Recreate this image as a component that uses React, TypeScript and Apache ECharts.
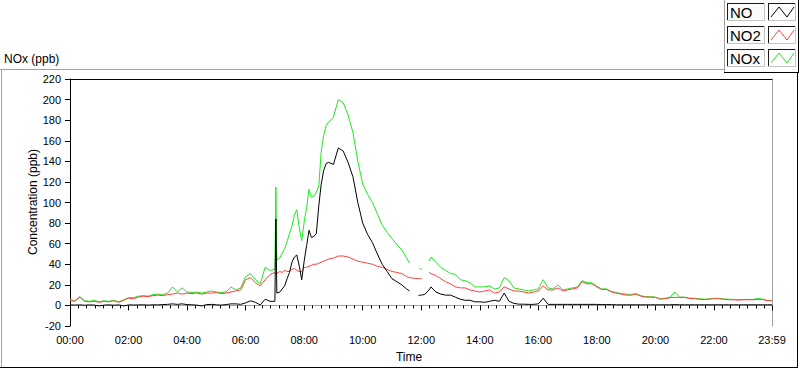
import React, { useEffect, useRef } from "react";
import * as echarts from "echarts";

// time of each sample, minutes after 00:00
const times = [
  0, 10, 20, 30, 40, 50, 60, 70, 80, 90,
  100, 110, 120, 130, 140, 150, 160, 170, 180, 190,
  200, 210, 220, 230, 240, 250, 260, 270, 280, 290,
  300, 310, 320, 330, 340, 350, 360, 370, 380, 390,
  400, 410, 420,
  422, 424,
  430, 435, 440, 445, 450, 455, 460, 465, 470, 475,
  480, 485, 490, 495, 500, 505, 510, 515, 520, 525, 530,
  540, 550, 560, 570, 580, 590, 600, 610, 620, 630,
  640, 650, 660, 670, 680, 690,
  696, 705, 714, 716, 721, 728, 736,
  740, 750, 760, 770, 780, 790, 800, 810, 820, 830,
  840, 850, 860, 870, 880, 890, 900, 910, 920, 930,
  940, 950, 960, 970, 980, 990, 1000, 1010, 1020, 1030,
  1040, 1050, 1060, 1070, 1080, 1090, 1100, 1110, 1120, 1130,
  1140, 1150, 1160, 1170, 1180, 1190, 1200, 1210, 1220, 1230,
  1240, 1250, 1260, 1270, 1280, 1290, 1300, 1310, 1320, 1330,
  1340, 1350, 1360, 1370, 1380, 1390, 1400, 1410, 1420, 1430,
  1439,
];

const noValues = [
  0.5, 0.3, 0.5, 0.2, 0.5, 0.3, -0.5, 0.3, 0.5, 0.2,
  0.5, -0.5, 0.5, 0.4, 0.5, 0.6, 0.3, 0.6, 0.5, 0.8,
  1, 1.5, 1, 1.5, 0.8, 0.6, 0.3, -0.5, 0.8, 1,
  0.6, 0.3, 0.8, 1.5, 1.5, 1, 2.5, 4.5, 3, 0.5,
  6, 4, 4,
  84, 12,
  13, 16, 19, 26, 32, 42, 47, 49, 38, 25,
  43, 58, 73, 66, 67, 70, 97, 118, 131, 138, 139,
  137, 153, 150, 139, 125, 100, 80, 69, 61, 50,
  40, 33, 26, 23, 20, 16,
  14, null, 9, 10, 10, 11, 15,
  18, 13, 11, 10, 10, 8, 6, 5, 5, 3.5,
  3.5, 3, 4, 5, 4, 12, 4, 2, 1.2, 1.2,
  1, 1, 1.5, 7, 1, 1, 1, 1, 1, 1,
  1, 1, 1, 1, 1, 0.8, 0.8, 0.8, 0.6, 0.6,
  0.6, 0.6, 0.6, 0.6, 0.6, 0.6, 0.6, 0.6, 0.6, 0.6,
  0.8, 0.6, 0.6, 0.6, 0.6, 0.6, 0.6, 0.6, 0.6, 0.6,
  0.6, 0.6, 0.6, 0.6, 0.6, 0.6, 0.6, 0.6, 0.6, 0.6,
  0.6,
];

const no2Values = [
  5, 4, 8, 4, 3.5, 4, 3, 4, 3.5, 4.5,
  3, 5, 7, 6.5, 8, 9, 8.5, 9.5, 10, 9.5,
  10.5, 11, 12, 11, 12, 11.5, 12, 11, 12, 12,
  12.5, 11.5, 12, 13, 14, 15, 25, 27, 22, 19,
  25, 30, 32,
  30, 31,
  33, 32, 34, 33, 33, 35, 36, 34, 33, 33,
  37, 37, 38, 39, 40, 40, 41, 42, 43, 44, 45,
  46, 48, 48, 47, 45, 43, 42, 41, 40, 38,
  37, 35, 33, 32, 31, 28,
  27, 26.5, 26, 26, 26, null, 32,
  31, 29, 26, 23, 21, 18, 17, 17, 15, 14,
  13, 14, 15, 12, 13, 18, 16, 14, 14, 13,
  12, 13, 14, 19, 15, 15, 17, 14, 15, 16,
  17, 23, 21, 21, 18, 15.5, 15.5, 13, 12, 11,
  10, 10, 11, 9, 8, 8, 7.8, 6, 6.5, 7.5,
  7.8, 7.8, 7.8, 6.8, 6.5, 6, 5.8, 6, 6.5, 6.5,
  6, 5.5, 5.5, 5.2, 5.5, 5.5, 5.5, 5.8, 5.8, 4.5,
  4.5,
];

const noxValues = [
  5.5, 4.5, 8.5, 4.5, 4, 5, 3.5, 4.5, 4, 5,
  3.5, 5.5, 7.5, 7.5, 9, 9.5, 9, 10.5, 11, 10.5,
  12, 18, 13, 17, 13, 12.5, 13, 12, 13, 14,
  13, 12.5, 13, 18, 15, 17, 28, 31, 25, 21,
  37, 34, 35,
  115, 44,
  46, 51, 55, 62, 70, 77, 88, 93, 75, 63,
  81, 95, 113, 105, 106, 110, 116, 150, 165, 175, 178,
  183, 200, 197, 185, 168, 140, 118, 108, 100, 89,
  78, 71, 65, 59, 54, 46,
  41, null, null, 36, 35, null, 43,
  47, 42, 37, 34, 31, 30, 25, 24, 22, 18,
  18, 18, 19, 16, 17, 27, 24, 17, 16, 15,
  14, 15, 16, 25, 17, 16, 20, 15, 16, 17,
  18, 24, 22, 22, 18.5, 16, 16, 13.5, 12.5, 11.5,
  11, 10.5, 11.5, 9.5, 8.5, 8.5, 8, 6.5, 7, 8,
  13, 8, 8, 7, 7, 6.5, 6, 6.3, 7, 6.8,
  6.3, 6, 5.8, 5.5, 5.8, 5.8, 5.8, 6.8, 6, 4.8,
  4.8,
];

const seriesNames = ["NO", "NO2", "NOx"];
const seriesColors = ["#000000", "#ff4040", "#1ee81e"];

const xMin = 0;
const xMax = 1439;
const xStep = 120;
const yMin = -20;
const yMax = 220;
const yStep = 20;

const FONT = "Liberation Sans";

function pairs(values: (number | null)[]) {
  return times.map((t, i) => [t, values[i] === null || values[i] === undefined ? "-" : values[i]]);
}

function fmtTime(v: number) {
  const h = Math.floor(v / 60);
  const m = Math.round(v - h * 60);
  return String(h).padStart(2, "0") + ":" + String(m).padStart(2, "0");
}

function legendRow(i: number, y0: number) {
  const dark = "#1a1a1a";
  const light = "#c4c4c4";
  const els: any[] = [];
  const box = (x: number, w: number, fill: string) => {
    els.push({ type: "rect", shape: { x, y: y0, width: w, height: 18 }, style: { fill, stroke: null } });
    els.push({ type: "line", shape: { x1: x, y1: y0 + 0.5, x2: x + w, y2: y0 + 0.5 }, style: { stroke: dark, lineWidth: 1 } });
    els.push({ type: "line", shape: { x1: x + 0.5, y1: y0, x2: x + 0.5, y2: y0 + 18 }, style: { stroke: dark, lineWidth: 1 } });
    els.push({ type: "line", shape: { x1: x, y1: y0 + 17.5, x2: x + w, y2: y0 + 17.5 }, style: { stroke: light, lineWidth: 1 } });
    els.push({ type: "line", shape: { x1: x + w - 0.5, y1: y0, x2: x + w - 0.5, y2: y0 + 18 }, style: { stroke: light, lineWidth: 1 } });
  };
  box(727, 38, "#fbfbfb");
  box(768, 28, "#ffffff");
  els.push({
    type: "text",
    x: 730,
    y: y0 + 9.5,
    style: { text: seriesNames[i], fill: "#000", font: `15px "${FONT}"`, verticalAlign: "middle", align: "left" },
  });
  els.push({
    type: "polyline",
    shape: { points: [[771, y0 + 14], [779, y0 + 4], [787, y0 + 14], [794, y0 + 4]] },
    style: { stroke: seriesColors[i], lineWidth: 1, fill: null },
  });
  return els;
}

export default function App() {
  const ref = useRef<HTMLDivElement>(null);
  useEffect(() => {
    if (!ref.current) return;
    const chart = echarts.init(ref.current, undefined, { renderer: "svg" });
    const grey = "#a0a0a0";
    const option: any = {
      animation: false,
      backgroundColor: "#ffffff",
      textStyle: { fontFamily: FONT },
      grid: { left: 70, top: 79, right: 28, bottom: 43, containLabel: false },
      xAxis: [
        {
          type: "value",
          min: xMin,
          max: xMax,
          interval: xStep,
          axisLine: { show: true, lineStyle: { color: grey, width: 1 } },
          axisTick: { show: true, length: 5, lineStyle: { color: "#000" } },
          minorTick: { show: true, splitNumber: 7, length: 3, lineStyle: { color: "#000" } },
          axisLabel: { color: "#000", fontSize: 11, margin: 8, formatter: (v: number) => fmtTime(v), showMaxLabel: true },
          splitLine: { show: false },
        },
        {
          type: "value",
          position: "top",
          min: xMin,
          max: xMax,
          axisLine: { show: true, onZero: false, lineStyle: { color: "#000", width: 1 } },
          axisTick: { show: false },
          axisLabel: { show: false },
          splitLine: { show: false },
        },
      ],
      yAxis: [
        {
          type: "value",
          min: yMin,
          max: yMax,
          interval: yStep,
          axisLine: { show: true, onZero: false, lineStyle: { color: "#000", width: 1 } },
          axisTick: { show: true, length: 5, lineStyle: { color: "#000" } },
          axisLabel: { color: "#000", fontSize: 11, margin: 9 },
          splitLine: { show: false },
        },
        {
          type: "value",
          position: "right",
          min: yMin,
          max: yMax,
          axisLine: { show: true, onZero: false, lineStyle: { color: grey, width: 1 } },
          axisTick: { show: false },
          axisLabel: { show: false },
          splitLine: { show: false },
        },
      ],
      series: [
        { name: "NOx", values: noxValues, z: 2, color: seriesColors[2] },
        { name: "NO2", values: no2Values, z: 3, color: seriesColors[1] },
        { name: "NO", values: noValues, z: 4, color: seriesColors[0] },
      ].map((s) => ({
        type: "line",
        name: s.name,
        data: pairs(s.values),
        z: s.z,
        showSymbol: false,
        symbol: "none",
        connectNulls: false,
        lineStyle: { color: s.color, width: 1 },
        itemStyle: { color: s.color },
      })),
      graphic: [
        { type: "line", shape: { x1: 0, y1: 69.5, x2: 724, y2: 69.5 }, style: { stroke: grey, lineWidth: 1 } },
        { type: "line", shape: { x1: 1.5, y1: 69, x2: 1.5, y2: 367 }, style: { stroke: grey, lineWidth: 1 } },
        { type: "line", shape: { x1: 0, y1: 367.5, x2: 798, y2: 367.5 }, style: { stroke: "#000", lineWidth: 1 } },
        { type: "line", shape: { x1: 797.5, y1: 72, x2: 797.5, y2: 368 }, style: { stroke: "#000", lineWidth: 1 } },
        { type: "line", shape: { x1: 724.5, y1: 0, x2: 724.5, y2: 72 }, style: { stroke: grey, lineWidth: 1 } },
        { type: "line", shape: { x1: 724, y1: 72.5, x2: 799, y2: 72.5 }, style: { stroke: "#000", lineWidth: 1 } },
        { type: "line", shape: { x1: 798.5, y1: 0, x2: 798.5, y2: 73 }, style: { stroke: "#000", lineWidth: 1 } },
        {
          type: "text",
          x: 4,
          y: 59,
          style: { text: "NOx (ppb)", fill: "#000", font: `12px "${FONT}"`, verticalAlign: "middle", align: "left" },
        },
        {
          type: "text",
          x: 33,
          y: 202,
          rotation: Math.PI / 2,
          style: { text: "Concentration (ppb)", fill: "#000", font: `12px "${FONT}"`, verticalAlign: "middle", align: "center" },
        },
        {
          type: "text",
          x: 409,
          y: 357,
          style: { text: "Time", fill: "#000", font: `12px "${FONT}"`, verticalAlign: "middle", align: "center" },
        },
        ...legendRow(0, 3),
        ...legendRow(1, 26),
        ...legendRow(2, 49),
      ],
    };
    chart.setOption(option);
    return () => chart.dispose();
  }, []);
  return <div ref={ref} style={{ position: "fixed", left: 0, top: 0, width: 800, height: 369 }} />;
}
